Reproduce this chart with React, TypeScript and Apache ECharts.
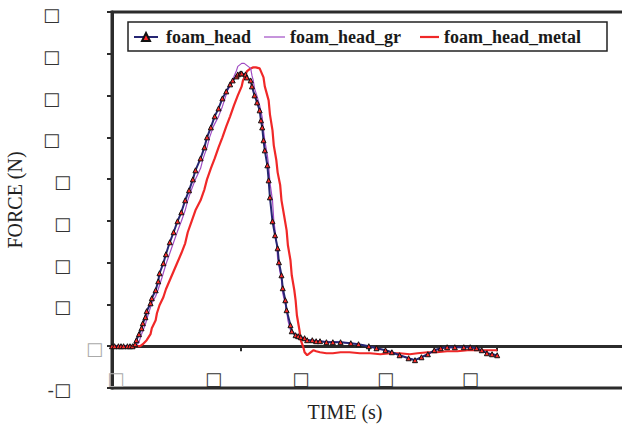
import React, { useEffect, useRef } from "react";
import * as echarts from "echarts";

const seriesNames = ["foam_head", "foam_head_gr", "foam_head_metal"];

const headTime = [0, 0.2, 0.5, 0.7, 0.9, 1.2, 1.4, 1.6, 1.8, 1.9, 2.1, 2.3, 2.4, 2.6, 2.7, 3.0, 3.1, 3.4, 3.6, 3.7, 4.0, 4.2, 4.5, 4.8, 5.1, 5.4, 5.7, 6.0, 6.3, 6.5, 6.9, 7.2, 7.4, 7.7, 8.0, 8.3, 8.6, 8.9, 9.2, 9.4, 9.7, 9.8, 10.0, 10.1, 10.4, 10.5, 10.8, 10.9, 11.1, 11.3, 11.5, 11.6, 11.7, 11.8, 11.9, 12.1, 12.2, 12.3, 12.5, 12.7, 12.9, 13.0, 13.2, 13.3, 13.5, 13.6, 13.9, 14.0, 14.3, 14.5, 14.7, 15.0, 15.2, 15.6, 15.9, 16.2, 16.7, 17.2, 17.8, 18.6, 19.2, 20.0, 20.6, 21.3, 21.8, 22.4, 23.1, 23.6, 24.1, 24.6, 25.1, 25.6, 26.1, 26.7, 27.4, 27.9, 28.4, 28.8, 29.2, 29.6, 30.0];
const headForce = [0, 0, 0, 0, 0, 0, 0, 0, 2.4, 7.2, 14.4, 21.5, 27.5, 34.7, 41.9, 51.4, 57.4, 67.0, 77.7, 87.3, 99.3, 110.0, 124.4, 136.4, 149.5, 160.3, 174.6, 186.6, 199.7, 210.5, 224.8, 238.0, 250.0, 261.9, 275.1, 284.6, 296.6, 305.0, 313.4, 318.1, 322.9, 325.3, 326.5, 326.5, 325.3, 321.7, 318.1, 311.0, 300.2, 291.8, 282.3, 270.3, 261.9, 246.4, 234.4, 216.5, 198.5, 178.2, 149.5, 132.8, 117.2, 100.5, 84.9, 69.4, 55.0, 43.1, 25.1, 17.9, 13.2, 12.0, 10.8, 9.6, 7.2, 7.2, 6.0, 6.0, 4.8, 4.8, 4.8, 3.6, 2.4, 0, -2.4, -4.8, -7.2, -10.8, -14.4, -16.7, -13.2, -9.6, -4.8, -2.4, -1.2, -1.2, -1.2, -1.2, -2.4, -4.8, -8.4, -9.6, -10.8];

const grTime = [0, 1.8, 2.1, 2.3, 2.6, 2.8, 3.1, 3.4, 3.6, 3.9, 4.2, 4.5, 4.8, 5.1, 5.4, 5.7, 5.9, 6.2, 6.5, 6.9, 7.1, 7.4, 7.6, 7.9, 8.3, 8.6, 8.8, 9.0, 9.3, 9.5, 9.7, 9.8, 10.0, 10.1, 10.3, 10.4, 10.6, 10.8, 10.9, 11.0, 11.1, 11.3, 11.5, 11.7, 11.8, 11.9, 12.1, 12.2, 12.3, 12.5, 12.6, 12.8, 12.9, 13.2, 13.3, 13.6, 13.7, 13.9, 14.2, 14.4, 14.7, 15.2, 16.2, 17.8, 19.2, 20.0, 21.3, 22.4, 23.6, 24.6, 25.6, 27.4, 28.4, 29.2, 30.0];
const grForce = [0, 0, 4.8, 14.4, 26.3, 37.1, 51.4, 59.8, 68.2, 82.5, 98.1, 111.2, 124.4, 137.5, 149.5, 162.7, 174.6, 187.8, 199.7, 212.9, 224.8, 238.0, 250.0, 263.1, 275.1, 287.0, 296.6, 306.2, 314.5, 322.9, 330.1, 334.9, 337.3, 338.5, 338.5, 337.3, 334.9, 332.5, 324.1, 318.1, 308.6, 299.0, 288.2, 273.9, 258.3, 246.4, 228.4, 216.5, 196.1, 174.6, 150.7, 126.8, 105.2, 78.9, 63.4, 43.1, 31.1, 19.1, 14.4, 12.0, 10.8, 7.2, 6.0, 4.8, 2.4, 0, -4.8, -10.8, -16.7, -9.6, -2.4, -1.2, -2.4, -8.4, -10.8];

const metalTime = [0, 1.9, 2.2, 2.4, 2.7, 3.0, 3.1, 3.4, 3.5, 3.7, 4.0, 4.2, 4.5, 4.8, 5.1, 5.4, 5.7, 5.9, 6.2, 6.5, 6.9, 7.2, 7.4, 7.7, 8.0, 8.3, 8.6, 8.9, 9.2, 9.5, 9.8, 10.1, 10.2, 10.4, 10.5, 10.8, 11.0, 11.2, 11.5, 11.6, 11.8, 11.9, 12.2, 12.3, 12.5, 12.6, 12.8, 12.9, 13.1, 13.2, 13.4, 13.6, 13.7, 13.9, 14.0, 14.2, 14.3, 14.4, 14.6, 14.7, 14.9, 15.0, 15.2, 15.4, 15.7, 15.9, 16.2, 16.7, 17.2, 17.8, 18.5, 19.3, 20.1, 20.9, 21.7, 22.4, 23.2, 23.8, 24.6, 25.3, 26.1, 26.9, 27.7, 28.4, 29.2, 30.0];
const metalForce = [0, 0, 0, 2.4, 7.2, 14.4, 21.5, 31.1, 39.5, 49.0, 58.6, 68.2, 78.9, 89.7, 100.5, 111.2, 123.2, 136.4, 149.5, 162.7, 174.6, 187.8, 199.7, 212.9, 224.8, 238.0, 250.0, 263.1, 275.1, 288.2, 300.2, 311.0, 318.1, 324.1, 328.9, 332.5, 333.7, 333.7, 332.5, 328.9, 321.7, 311.0, 294.2, 277.5, 258.3, 240.4, 222.5, 208.1, 192.6, 174.6, 156.7, 138.7, 120.8, 102.9, 84.9, 67.0, 55.0, 37.1, 19.1, 7.2, -1.2, -7.2, -10.8, -8.4, -4.8, -6.0, -7.2, -8.4, -8.4, -7.2, -7.2, -8.4, -8.4, -9.6, -8.4, -8.4, -9.6, -8.4, -7.2, -7.2, -6.0, -6.0, -4.8, -4.8, -4.8, -4.8];

const yTickValues = [-50, 0, 50, 100, 150, 200, 250, 300, 350, 400];
const yTickLabels = ["-\u25A1", "\u25A1", "\u25A1", "\u25A1", "\u25A1", "\u25A1", "\u25A1", "\u25A1", "\u25A1", "\u25A1"];
const xTickValues = [0, 10, 20, 30];
const xLabelValues = [0.3, 7.9, 14.7, 21.3, 27.9];
const xLabelTexts = ["\u25A1", "\u25A1", "\u25A1", "\u25A1", "\u25A1"];

const zip = (a: number[], b: number[]) => a.map((v, i) => [v, b[i]]);

export default function App() {
  const ref = useRef<HTMLDivElement>(null);
  useEffect(() => {
    if (!ref.current) return;
    const chart = echarts.init(ref.current, null, { renderer: "svg" });
    const serif = "'Liberation Serif', 'Times New Roman', serif";
    const boxFont = "'DejaVu Sans', sans-serif";
    const legendText = { fontFamily: serif, fontWeight: "bold" as const, fontSize: 18, color: "#1a1a1a" };
    chart.setOption({
      animation: false,
      backgroundColor: "#ffffff",
      grid: {
        left: 112,
        top: 12,
        right: -10,
        bottom: 40,
        show: true,
        borderColor: "#2b2b2b",
        borderWidth: 3,
        backgroundColor: "transparent",
        containLabel: false,
        outerBoundsMode: "none",
      },
      legend: [
        { data: [seriesNames[0]], left: 133, top: 28, padding: 0, itemWidth: 24, itemHeight: 10, textStyle: { ...legendText, padding: [0, 0, 0, 3] } },
        { data: [{ name: seriesNames[1], icon: "rect" }], left: 264, top: 28, padding: 0, itemWidth: 21, itemHeight: 1.2, textStyle: legendText },
        { data: [{ name: seriesNames[2], icon: "rect" }], left: 420, top: 28, padding: 0, itemWidth: 19, itemHeight: 2.2, textStyle: legendText },
      ],
      graphic: [
        {
          type: "rect",
          z: 1,
          shape: { x: 128, y: 22, width: 479, height: 29 },
          style: { fill: "#ffffff", stroke: "#222222", lineWidth: 1.5 },
        },
      ],
      xAxis: {
        type: "value",
        min: 0,
        max: 40.5,
        interval: 10,
        name: "TIME (s)",
        nameLocation: "middle",
        nameGap: 14,
        nameMoveOverlap: false,
        nameTextStyle: { fontFamily: serif, fontSize: 20, color: "#222", padding: [0, 54, 0, 0] },
        axisLine: { onZero: true, lineStyle: { color: "#2b2b2b", width: 3 } },
        axisTick: { show: true, inside: false, length: 5, customValues: xTickValues, lineStyle: { color: "#2b2b2b", width: 2 } },
        splitLine: { show: false },
        axisLabel: {
          customValues: xLabelValues,
          margin: -19,
          formatter: (v: number) => {
            const i = xLabelValues.indexOf(v);
            return `{${i === 0 ? "z" : "b"}|${xLabelTexts[i] ?? ""}}`;
          },
          rich: {
            b: { fontFamily: boxFont, fontSize: 18, color: "#333" },
            z: { fontFamily: boxFont, fontSize: 18, color: "#aaa" },
          },
        },
      },
      yAxis: {
        type: "value",
        min: -50,
        max: 400,
        interval: 50,
        name: "FORCE (N)",
        nameLocation: "middle",
        nameGap: 87,
        nameMoveOverlap: false,
        nameTextStyle: { fontFamily: serif, fontSize: 20, color: "#222" },
        axisLine: { show: true, lineStyle: { color: "#2b2b2b", width: 3 } },
        axisTick: { show: true, inside: false, length: 5, lineStyle: { color: "#2b2b2b", width: 2 } },
        splitLine: { show: false },
        axisLabel: {
          margin: 9,
          formatter: (v: number) => {
            const i = yTickValues.indexOf(v);
            const t = yTickLabels[i] ?? "";
            const s = v === 0 ? "z" : v < 0 ? "n" : v >= 250 ? "h" : "m";
            return `{${s}|${t}}`;
          },
          rich: {
            z: { fontFamily: boxFont, fontSize: 18, color: "#aaa", padding: [5, 0, 0, 0] },
            m: { fontFamily: boxFont, fontSize: 18, color: "#333", padding: [5, 32, 0, 0] },
            h: { fontFamily: boxFont, fontSize: 18, color: "#333", padding: [5, 43, 0, 0] },
            n: { fontFamily: boxFont, fontSize: 18, color: "#333", padding: [3, 32, 0, 0] },
          },
        },
      },
      series: [
        {
          name: seriesNames[2],
          type: "line",
          data: zip(metalTime, metalForce),
          showSymbol: false,
          symbol: "none",
          color: "#f02828",
          lineStyle: { color: "#f02828", width: 2.2 },
          z: 2,
        },
        {
          name: seriesNames[1],
          type: "line",
          data: zip(grTime, grForce),
          showSymbol: false,
          symbol: "none",
          color: "#a04cc4",
          lineStyle: { color: "#a04cc4", width: 1.2 },
          z: 3,
        },
        {
          name: seriesNames[0],
          type: "line",
          data: zip(headTime, headForce),
          symbol: "triangle",
          symbolSize: 5,
          showAllSymbol: true,
          color: "#262673",
          lineStyle: { color: "#262673", width: 2 },
          itemStyle: { color: "#ff2a2a", borderColor: "#111", borderWidth: 1 },
          z: 4,
        },
      ],
    });
    return () => chart.dispose();
  }, []);
  return <div ref={ref} style={{ position: "fixed", left: 0, top: 0, width: 622, height: 428 }} />;
}
